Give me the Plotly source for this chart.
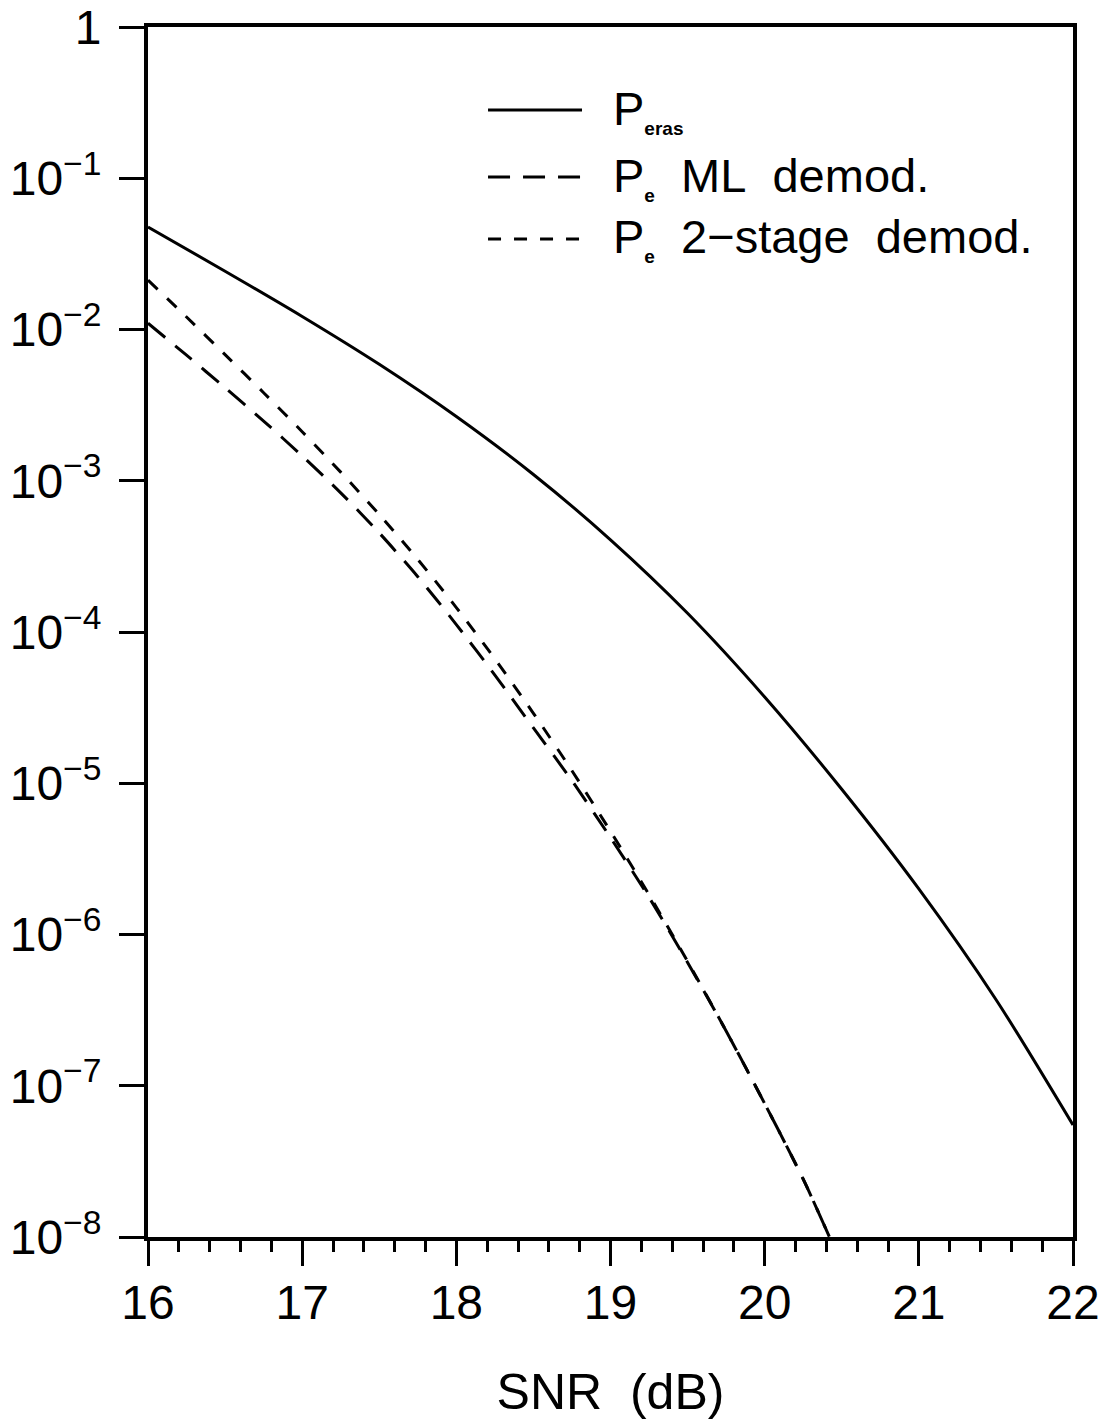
import plotly.graph_objects as go

# Erasure probability vs SNR
snr_eras = [16.0, 16.5, 17.0, 17.5, 18.0, 18.5, 19.0, 19.5, 20.0, 20.5, 21.0, 21.5, 22.0]
p_eras = [4.76e-2, 2.43e-2, 1.22e-2, 5.89e-3, 2.66e-3, 1.10e-3, 4.07e-4, 1.33e-4,
          3.72e-5, 9.12e-6, 2.00e-6, 3.72e-7, 5.50e-8]

# Symbol error probability, ML demodulation
snr_ml = [16.0, 16.25, 16.5, 16.75, 17.0, 17.25, 17.5, 17.75, 18.0, 18.25, 18.5, 18.75,
          19.0, 19.25, 19.5, 19.75, 20.0, 20.25, 20.42]
p_ml = [1.10e-2, 6.76e-3, 4.12e-3, 2.48e-3, 1.46e-3, 8.32e-4, 4.52e-4, 2.32e-4, 1.12e-4,
        5.19e-5, 2.32e-5, 1.04e-5, 4.37e-6, 1.76e-6, 6.53e-7, 2.30e-7, 7.62e-8, 2.41e-8, 1.0e-8]

# Symbol error probability, 2-stage demodulation
snr_2s = [16.0, 16.25, 16.5, 16.75, 17.0, 17.25, 17.5, 17.75, 18.0, 18.25, 18.5, 18.75,
          19.0, 19.25, 19.5, 19.75, 20.0, 20.25, 20.42]
p_2s = [2.12e-2, 1.21e-2, 6.82e-3, 3.82e-3, 2.11e-3, 1.14e-3, 5.98e-4, 3.02e-4, 1.45e-4,
        6.64e-5, 2.90e-5, 1.21e-5, 4.81e-6, 1.83e-6, 6.64e-7, 2.30e-7, 7.62e-8, 2.41e-8, 1.0e-8]

x_ticks = [16, 17, 18, 19, 20, 21, 22]
y_ticks = [1e-8, 1e-7, 1e-6, 1e-5, 1e-4, 1e-3, 1e-2, 1e-1, 1]
y_ticktext = ["10<sup>\u22128</sup>", "10<sup>\u22127</sup>", "10<sup>\u22126</sup>",
              "10<sup>\u22125</sup>", "10<sup>\u22124</sup>", "10<sup>\u22123</sup>",
              "10<sup>\u22122</sup>", "10<sup>\u22121</sup>", "1"]

FONT = "Liberation Sans"
DASH_ML = "22px,13px"
DASH_2S = "13px,13px"

fig = go.Figure()
fig.add_trace(go.Scatter(x=snr_eras, y=p_eras, mode="lines", name="P_eras",
                         line=dict(color="black", width=3, shape="spline", smoothing=0.8),
                         showlegend=False))
fig.add_trace(go.Scatter(x=snr_ml, y=p_ml, mode="lines", name="P_e ML demod.",
                         line=dict(color="black", width=3, dash=DASH_ML, shape="spline", smoothing=0.8),
                         showlegend=False))
fig.add_trace(go.Scatter(x=snr_2s, y=p_2s, mode="lines", name="P_e 2-stage demod.",
                         line=dict(color="black", width=3, dash=DASH_2S, shape="spline", smoothing=0.8),
                         showlegend=False))

# Hand-built legend in the upper right of the plot box
SUB = '<sub><b><span style="font-size:19px">{}</span></b></sub>'
legend_rows = [
    (0.9314, "solid", "P" + SUB.format("eras")),
    (0.8760, DASH_ML, "P" + SUB.format("e") + "\u00a0 ML\u00a0 demod."),
    (0.8248, DASH_2S, "P" + SUB.format("e") + "\u00a0 2\u2212stage\u00a0\u00a0demod."),
]
for yy, dash, label in legend_rows:
    fig.add_shape(type="line", xref="paper", yref="paper", x0=0.3676, x1=0.4692, y0=yy, y1=yy,
                  line=dict(color="black", width=3, dash=dash))
    fig.add_annotation(xref="paper", yref="paper", x=0.501, y=yy, xanchor="left", yanchor="middle",
                       text=label, showarrow=False, font=dict(family=FONT, size=47, color="black"))

fig.update_xaxes(
    range=[16, 22], tickvals=x_ticks, ticktext=[str(v) for v in x_ticks],
    ticks="outside", ticklen=25, tickwidth=3, tickcolor="black",
    ticklabelstandoff=-5,
    minor=dict(dtick=0.2, ticks="outside", ticklen=11, tickwidth=2.5, tickcolor="black", showgrid=False),
    showline=True, linewidth=4, linecolor="black", mirror=True,
    showgrid=False, zeroline=False,
    tickfont=dict(family=FONT, size=48, color="black"),
    title=dict(text="SNR\u00a0 (dB)", font=dict(family=FONT, size=50, color="black"), standoff=57),
)
fig.update_yaxes(
    type="log", range=[-8, 0], tickvals=y_ticks, ticktext=y_ticktext,
    ticks="outside", ticklen=25, tickwidth=3, tickcolor="black",
    ticklabelstandoff=8,
    showline=True, linewidth=4, linecolor="black", mirror=True,
    showgrid=False, zeroline=False,
    tickfont=dict(family=FONT, size=48, color="black"),
)
fig.update_layout(
    width=1114, height=1420,
    margin=dict(l=148, r=41, t=27, b=183, autoexpand=False),
    paper_bgcolor="white", plot_bgcolor="white",
    showlegend=False,
)
fig.write_html("out.html")
